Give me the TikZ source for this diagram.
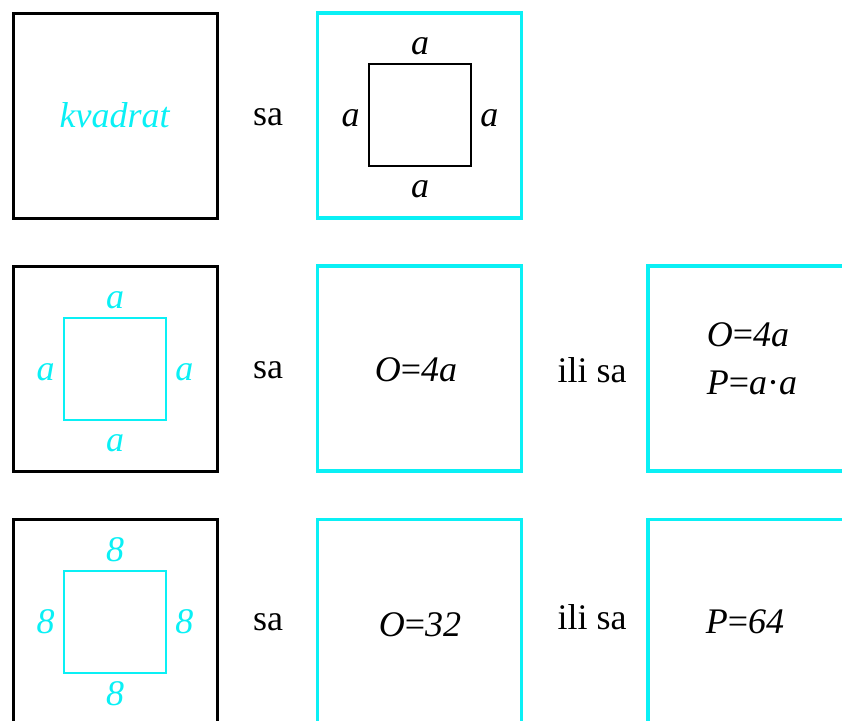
\documentclass[tikz,border=0pt]{standalone}
\usepackage{fontspec}
\setmainfont{Liberation Serif}
\usetikzlibrary{positioning}

\begin{document}
\begin{tikzpicture}[x=0.5pt, y=-0.5pt]
      \definecolor{aqua}{RGB}{10,240,245}

      \newcommand{\sidesep}[0]{3pt}
      \newcommand{\lbl}[1]{\textit{#1}}

      \tikzstyle{bigbox}   = [rectangle, minimum width=102pt, minimum height=102.5pt, inner sep=0pt]
      \tikzstyle{blackbox} = [bigbox, draw=black, line width=1.5pt]
      \tikzstyle{aquabox}  = [bigbox, draw=aqua, line width=1.7pt]
      \tikzstyle{side}     = [rectangle, minimum width=51pt, minimum height=51pt, inner sep=0pt, line width=1pt]
      \tikzstyle{word}     = [font=\fontsize{18}{22}\selectfont, inner sep=1pt]
      \tikzstyle{sidelbl}  = [word, text height=11.5pt, text depth=0pt]

      \useasboundingbox (0,0) rectangle (842,720);
      \clip (0,0) rectangle (842,720);

      % row 1
      \node [blackbox] (shape)  at (115,115.5) {};
      \node [word, text=aqua] (shapename) at (shape) {\lbl{kvadrat}};
      \node [word] (sa1) at (268,117) {sa};
      \node [aquabox] (sides) at (419.5,115.5) {};
      \node [side, draw=black] (sq1) at (420,114.5) {};
      \node [sidelbl, above = \sidesep of sq1] (sq1t) {\lbl{a}};
      \node [sidelbl, below = \sidesep of sq1] (sq1b) {\lbl{a}};
      \node [sidelbl, left  = \sidesep of sq1] (sq1l) {\lbl{a}};
      \node [sidelbl, right = \sidesep of sq1] (sq1r) {\lbl{a}};

      % row 2
      \node [blackbox] (general) at (115,368.5) {};
      \node [side, draw=aqua] (sq2) at (115,368.5) {};
      \node [sidelbl, text=aqua, above = \sidesep of sq2] (sq2t) {\lbl{a}};
      \node [sidelbl, text=aqua, below = \sidesep of sq2] (sq2b) {\lbl{a}};
      \node [sidelbl, text=aqua, left  = \sidesep of sq2] (sq2l) {\lbl{a}};
      \node [sidelbl, text=aqua, right = \sidesep of sq2] (sq2r) {\lbl{a}};
      \node [word] (sa2) at (268,370) {sa};
      \node [aquabox] (perim) at (419.5,368.5) {};
      \node [word] (perimtext) at (416,370) {\lbl{O}=\lbl{4a}};
      \node [word] (ili2) at (592,370) {ili sa};
      \node [aquabox] (both) at (750,368.5) {};
      \node [word, align=left, font=\fontsize{18}{24}\selectfont] (bothtext) at (752,359) {\lbl{O}=\lbl{4a}\\\lbl{P}=\lbl{a}·\lbl{a}};

      % row 3
      \node [blackbox] (numeric) at (115,622) {};
      \node [side, draw=aqua] (sq3) at (115,622) {};
      \node [sidelbl, text=aqua, above = \sidesep of sq3] (sq3t) {\lbl{8}};
      \node [sidelbl, text=aqua, below = \sidesep of sq3] (sq3b) {\lbl{8}};
      \node [sidelbl, text=aqua, left  = \sidesep of sq3] (sq3l) {\lbl{8}};
      \node [sidelbl, text=aqua, right = \sidesep of sq3] (sq3r) {\lbl{8}};
      \node [word] (sa3) at (268,622) {sa};
      \node [aquabox] (perimnum) at (419.5,622) {};
      \node [word] (perimnumtext) at (420,625) {\lbl{O}=\lbl{32}};
      \node [word] (ili3) at (592,617) {ili sa};
      \node [aquabox] (area) at (750,622) {};
      \node [word] (areatext) at (745,622) {\lbl{P}=\lbl{64}};
    \end{tikzpicture}
\end{document}
